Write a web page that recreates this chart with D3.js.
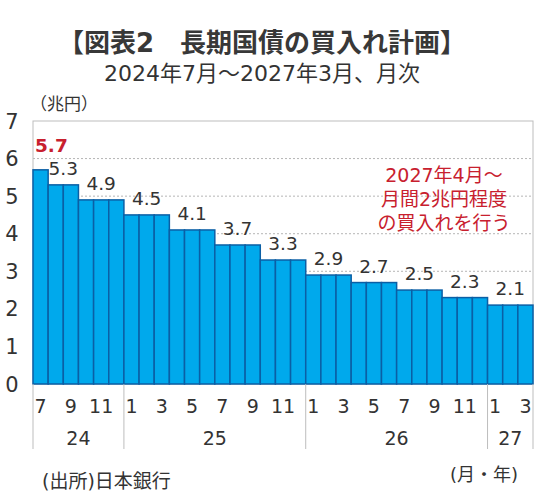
<!DOCTYPE html>
<html>
<head>
<meta charset="utf-8">
<script src="https://cdn.jsdelivr.net/npm/d3@7"></script>
<style>
  body { margin: 0; background: #fff; }
  svg { display: block; font-family: "DejaVu Sans", "Noto Sans CJK JP", sans-serif; }
</style>
</head>
<body>
<script>
// months 2024-07 .. 2027-03
const months = [
    "2024-07", "2024-08", "2024-09", "2024-10", "2024-11", "2024-12",
    "2025-01", "2025-02", "2025-03", "2025-04", "2025-05", "2025-06",
    "2025-07", "2025-08", "2025-09", "2025-10", "2025-11", "2025-12",
    "2026-01", "2026-02", "2026-03", "2026-04", "2026-05", "2026-06",
    "2026-07", "2026-08", "2026-09", "2026-10", "2026-11", "2026-12",
    "2027-01", "2027-02", "2027-03"
];
const values = [
    5.7, 5.3, 5.3, 4.9, 4.9, 4.9,
    4.5, 4.5, 4.5, 4.1, 4.1, 4.1,
    3.7, 3.7, 3.7, 3.3, 3.3, 3.3,
    2.9, 2.9, 2.9, 2.7, 2.7, 2.7,
    2.5, 2.5, 2.5, 2.3, 2.3, 2.3,
    2.1, 2.1, 2.1
];
const yTicks = [0, 1, 2, 3, 4, 5, 6, 7];
const years = ["24", "25", "26", "27"];
const noteLines = ["2027年4月～", "月間2兆円程度", "の買入れを行う"];

const width = 540, height = 500;
const margin = { top: 121, right: 7, bottom: 116, left: 33 };

const svg = d3.select("body").append("svg")
    .attr("width", width)
    .attr("height", height);

const x = d3.scaleBand()
    .domain(months)
    .range([margin.left, width - margin.right])
    .padding(0);

const y = d3.scaleLinear()
    .domain([0, 7])
    .range([height - margin.bottom, margin.top]);

// titles
svg.append("text")
    .attr("x", 262).attr("y", 52)
    .attr("text-anchor", "middle")
    .attr("font-size", 26)
    .attr("font-weight", "bold")
    .attr("fill", "#383838")
    .text("【図表2　長期国債の買入れ計画】");

svg.append("text")
    .attr("x", 262).attr("y", 81)
    .attr("text-anchor", "middle")
    .attr("font-size", 22)
    .attr("fill", "#333")
    .text("2024年7月～2027年3月、月次");

svg.append("text")
    .attr("x", 30).attr("y", 110)
    .attr("font-size", 17)
    .attr("fill", "#333")
    .text("（兆円）");

// grid
svg.append("g")
    .selectAll("line")
    .data(yTicks.filter(d => d > 0 && d < 7))
    .join("line")
    .attr("x1", x.range()[0]).attr("x2", x.range()[1])
    .attr("y1", d => y(d)).attr("y2", d => y(d))
    .attr("stroke", "#b5b5b5")
    .attr("stroke-dasharray", "2,2");

// frame
svg.append("rect")
    .attr("x", x.range()[0]).attr("y", y(7))
    .attr("width", x.range()[1] - x.range()[0])
    .attr("height", y(0) - y(7))
    .attr("fill", "none")
    .attr("stroke", "#bdbdbd");

// y tick labels
svg.append("g")
    .selectAll("text")
    .data(yTicks)
    .join("text")
    .attr("x", 12)
    .attr("y", d => y(d) + 7.5)
    .attr("text-anchor", "middle")
    .attr("font-size", 21)
    .attr("fill", "#333")
    .text(d => d);

// bars
svg.append("g")
    .selectAll("rect")
    .data(values)
    .join("rect")
    .attr("x", (d, i) => x(months[i]))
    .attr("y", d => y(d))
    .attr("width", x.bandwidth())
    .attr("height", d => y(0) - y(d))
    .attr("fill", "#00a9ec")
    .attr("stroke", "#0b5fa5")
    .attr("stroke-width", 1.5);

// value labels, one per run of equal values
const groups = [];
values.forEach((v, i) => {
    const last = groups[groups.length - 1];
    if (last && last.value === v) last.end = i;
    else groups.push({ value: v, start: i, end: i });
});

svg.append("g")
    .selectAll("text")
    .data(groups)
    .join("text")
    .attr("x", (d, i) => i === 0 ? x(months[0]) + 2
        : (x(months[d.start]) + x(months[d.end]) + x.bandwidth()) / 2)
    .attr("y", (d, i) => y(d.value) - (i === 0 ? 18 : 10))
    .attr("text-anchor", (d, i) => i === 0 ? "start" : "middle")
    .attr("font-size", 18.5)
    .attr("font-weight", (d, i) => i === 0 ? "bold" : "normal")
    .attr("fill", (d, i) => i === 0 ? "#c8202e" : "#333")
    .text(d => d.value.toFixed(1));

// note
svg.append("g")
    .selectAll("text")
    .data(noteLines)
    .join("text")
    .attr("x", 444)
    .attr("y", (d, i) => 182 + i * 24)
    .attr("text-anchor", "middle")
    .attr("font-size", 19)
    .attr("fill", "#c8202e")
    .text(d => d);

// month labels (odd months)
svg.append("g")
    .selectAll("text")
    .data(months.filter(m => +m.slice(5) % 2 === 1))
    .join("text")
    .attr("x", d => x(d) + x.bandwidth() / 2)
    .attr("y", 413)
    .attr("text-anchor", "middle")
    .attr("font-size", 19)
    .attr("fill", "#333")
    .text(d => +d.slice(5));

// year separators
const seps = months.filter((m, i) => i === 0 || m.endsWith("-01")).map(m => x(m));
seps.push(x.range()[1]);
svg.append("g")
    .selectAll("line")
    .data(seps)
    .join("line")
    .attr("x1", d => d).attr("x2", d => d)
    .attr("y1", y(0)).attr("y2", 449)
    .attr("stroke", "#bdbdbd");

// year labels
svg.append("g")
    .selectAll("text")
    .data(years)
    .join("text")
    .attr("x", (d, i) => (seps[i] + seps[i + 1]) / 2)
    .attr("y", 445)
    .attr("text-anchor", "middle")
    .attr("font-size", 19)
    .attr("fill", "#333")
    .text(d => d);

svg.append("text")
    .attr("x", 42).attr("y", 488)
    .attr("font-size", 19)
    .attr("fill", "#333")
    .text("(出所)日本銀行");

svg.append("text")
    .attr("x", 518).attr("y", 481)
    .attr("text-anchor", "end")
    .attr("font-size", 18)
    .attr("fill", "#333")
    .text("(月・年)");
</script>
</body>
</html>
